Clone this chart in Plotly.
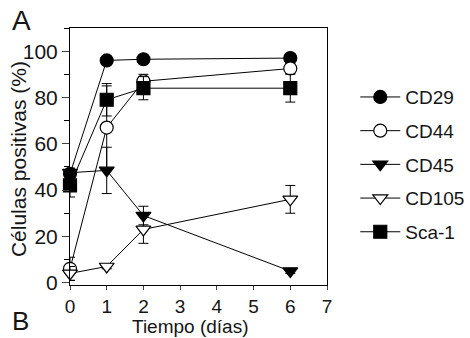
import plotly.graph_objects as go

days = [0, 1, 2, 6]
series_names = ["CD29", "CD44", "CD45", "CD105", "Sca-1"]
cd29 = [47, 96, 96.5, 97]
cd44 = [6, 67, 87, 92.5]
cd45 = [47.5, 48.5, 29, 5]
cd105 = [4, 7, 23, 36]
sca1 = [42, 79, 84, 84]
cd29_err = [1, 1, 1, 1]
cd44_err = [5, 18, 3, 2]
cd45_err = [2, 10, 4, 1]
cd105_err = [3, 1, 6, 6]
sca1_err = [5, 7, 5, 6]
x_ticks = [0, 1, 2, 3, 4, 5, 6, 7]
y_ticks = [0, 20, 40, 60, 80, 100]

values = [cd29, cd44, cd45, cd105, sca1]
errors = [cd29_err, cd44_err, cd45_err, cd105_err, sca1_err]
symbols = ["circle", "circle-open", "triangle-down", "triangle-down-open", "square"]

FONT = "Liberation Sans, Arial, sans-serif"
TXT = "#151515"
fig = go.Figure()
for name, v, e, s in zip(series_names, values, errors, symbols):
    is_open = "open" in s
    fig.add_trace(go.Scatter(
        x=days, y=v, name=name, mode="lines+markers",
        line=dict(color="black", width=1),
        marker=dict(symbol=s.replace("-open", ""), size=13,
                    color="white" if is_open else "black",
                    line=dict(color="black", width=1.2)),
        error_y=dict(type="data", array=e, color="black", thickness=1, width=5),
        cliponaxis=False, legendgroup=name,
    ))

fig.update_layout(
    width=470, height=338,
    margin=dict(l=70, r=143, t=28, b=53, autoexpand=False),
    paper_bgcolor="white", plot_bgcolor="white",
    font=dict(family=FONT, size=18, color=TXT),
    showlegend=True,
    legend=dict(x=1.11, y=0.805, xanchor="left", yanchor="top",
                font=dict(size=19), tracegroupgap=6, itemwidth=40),
    xaxis=dict(range=[0, 7], tickvals=x_ticks, ticks="outside", ticklen=4,
               tickfont=dict(size=19), automargin=False,
               showline=True, linecolor="black", linewidth=1, mirror=True,
               showgrid=False, zeroline=False),
    yaxis=dict(range=[-1, 110], tickvals=y_ticks, ticks="outside", ticklen=7,
               tickfont=dict(size=21), automargin=False,
               showline=True, linecolor="black", linewidth=1, mirror=True,
               showgrid=False, zeroline=False,
               minor=dict(dtick=10, tick0=0, ticks="outside", ticklen=5, tickcolor="black")),
)
fig.add_annotation(text="Células positivas (%)", xref="paper", yref="paper", x=0, y=0.49,
                   showarrow=False, xanchor="center", yanchor="middle", xshift=-52,
                   textangle=-90, font=dict(size=21, family=FONT, color=TXT))
fig.add_annotation(text="Tiempo (días)", xref="paper", yref="paper", x=0.47, y=0,
                   showarrow=False, xanchor="center", yanchor="middle", yshift=-41,
                   font=dict(size=19, family=FONT, color=TXT))
fig.add_annotation(text="A", xref="paper", yref="paper", x=0, y=1, showarrow=False,
                   xanchor="left", yanchor="top", xshift=-60, yshift=25,
                   font=dict(size=28, family=FONT, color=TXT))
fig.add_annotation(text="B", xref="paper", yref="paper", x=0, y=0, showarrow=False,
                   xanchor="left", yanchor="bottom", xshift=-60, yshift=-53,
                   font=dict(size=26, family=FONT, color=TXT))
fig.write_html("out.html", config={"displayModeBar": False},
               post_script="document.body.style.margin='0';document.body.style.padding='0';")
